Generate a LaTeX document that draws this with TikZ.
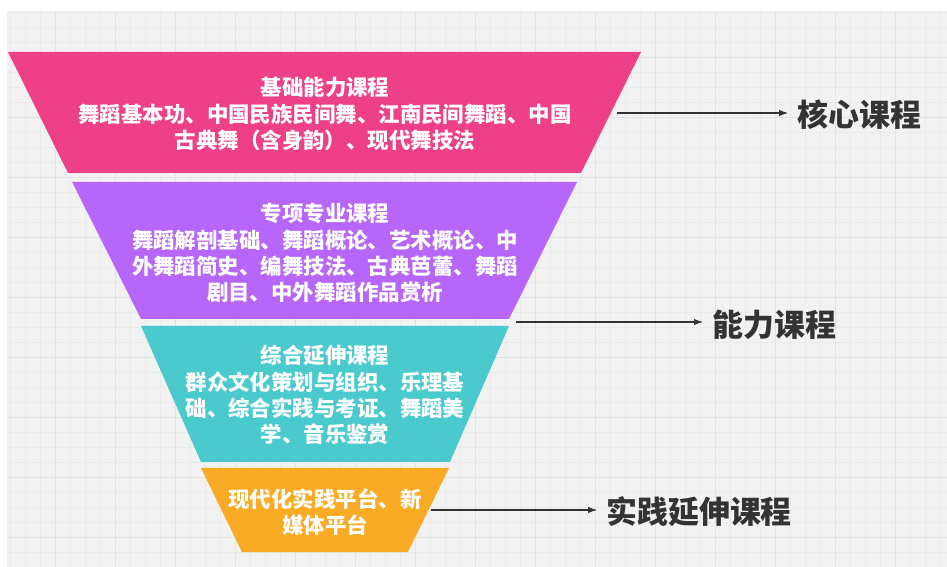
\documentclass[tikz,border=0pt]{standalone}
\usepackage{fontspec}
\usepackage{xcolor}
\usetikzlibrary{arrows.meta}
\newfontfamily\cjk{Noto Sans CJK SC}
\definecolor{bgcolor}{HTML}{F2F2F2}
\definecolor{gridminor}{HTML}{EAEAEA}
\definecolor{gridmajor}{HTML}{E2E2E2}
\definecolor{rosepink}{HTML}{EE4086}
\definecolor{lilac}{HTML}{B666F8}
\definecolor{tealcyan}{HTML}{4BCACE}
\definecolor{amber}{HTML}{FAAB26}
\definecolor{inkgray}{HTML}{333333}
\tikzstyle{layertext} = [text=white, font=\cjk\bfseries\fontsize{12.2pt}{15pt}\selectfont,
align=center, inner sep=0pt]
\tikzstyle{levellabel} = [text=inkgray, font=\cjk\bfseries\fontsize{17.6pt}{20pt}\selectfont,
anchor=west, inner xsep=0.16cm, inner ysep=0pt]
\tikzstyle{pointer} = [draw=inkgray, line width=1.1pt, -{Latex[length=0.2cm,width=0.13cm]}]

\begin{document}
\begin{tikzpicture}[x=0.02cm, y=-0.02cm]
        \useasboundingbox (0,0) rectangle (947,567);
        \fill[white] (0,0) rectangle (947,567);
        \fill[bgcolor] (7,11) rectangle (947,567);
        \foreach \x in {10,25,...,940} \draw[gridminor, line width=0.4pt] (\x,11) -- (\x,567);
        \foreach \y in {12,27,...,562} \draw[gridminor, line width=0.4pt] (7,\y) -- (947,\y);
        \foreach \x in {55,115,...,895} \draw[gridmajor, line width=0.5pt] (\x,11) -- (\x,567);
        \foreach \y in {57,117,...,537} \draw[gridmajor, line width=0.5pt] (7,\y) -- (947,\y);

        \fill[rosepink] (8,52) -- (641,52) -- (581,173) -- (68,173) -- cycle;
        \fill[lilac] (72,182) -- (577,182) -- (509,319) -- (141,319) -- cycle;
        \fill[tealcyan] (141,326) -- (509,326) -- (450,462) -- (201,462) -- cycle;
        \fill[amber] (201,468) -- (449,468) -- (408,552) -- (242,552) -- cycle;

        \node[layertext] (basic) at (325,114) {基础能力课程\\舞蹈基本功、中国民族民间舞、江南民间舞蹈、中国\\古典舞（含身韵）、现代舞技法};
        \node[layertext] (special) at (325,253) {专项专业课程\\舞蹈解剖基础、舞蹈概论、艺术概论、中\\外舞蹈简史、编舞技法、古典芭蕾、舞蹈\\剧目、中外舞蹈作品赏析};
        \node[layertext] (extend) at (325,395) {综合延伸课程\\群众文化策划与组织、乐理基\\础、综合实践与考证、舞蹈美\\学、音乐鉴赏};
        \node[layertext] (platform) at (325,512) {现代化实践平台、新\\媒体平台};

        \coordinate (p1) at (617,113);
        \coordinate (p2) at (516,322);
        \coordinate (p3) at (431,510);
        \node[levellabel] (core) at (789,115) {核心课程};
        \node[levellabel] (ability) at (704,325) {能力课程};
        \node[levellabel] (practice) at (598,512) {实践延伸课程};
        \draw[pointer] (p1) -- (p1 -| core.west);
        \draw[pointer] (p2) -- (p2 -| ability.west);
        \draw[pointer] (p3) -- (p3 -| practice.west);
    \end{tikzpicture}
\end{document}
